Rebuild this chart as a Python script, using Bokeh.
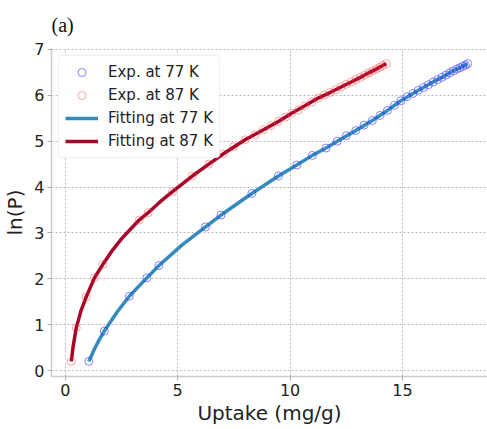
from bokeh.plotting import figure
from bokeh.models import Range1d, Legend, LegendItem, FixedTicker
from bokeh.embed import file_html
from bokeh.resources import INLINE

# 77 K experimental points
x77 = [1.05, 1.74, 2.85, 3.63, 4.17, 6.24, 6.93, 8.3, 9.48, 10.3, 10.99, 11.6, 12.1, 12.5,
       12.92, 13.29, 13.66, 14.0, 14.33, 14.64, 14.93, 15.2, 15.46, 15.7, 15.93, 16.15,
       16.36, 16.56, 16.75, 16.93, 17.1, 17.26, 17.41, 17.55, 17.68, 17.8, 17.9]
y77 = [0.2, 0.86, 1.62, 2.02, 2.29, 3.13, 3.39, 3.86, 4.24, 4.48, 4.69, 4.85, 5.0, 5.12,
       5.23, 5.35, 5.45, 5.56, 5.67, 5.78, 5.88, 5.97, 6.04, 6.11, 6.17, 6.23,
       6.29, 6.34, 6.39, 6.44, 6.49, 6.53, 6.57, 6.6, 6.63, 6.66, 6.69]

# 87 K experimental points
x87 = [0.27, 0.49, 0.93, 1.3, 1.67, 3.29, 3.69, 4.77, 5.65, 6.39, 7.02, 7.49, 8.0, 8.45,
       8.82, 9.16, 9.48, 9.78, 10.07, 10.37, 10.66, 10.96, 11.25, 11.52, 11.78, 12.03,
       12.27, 12.5, 12.72, 12.93, 13.13, 13.32, 13.5, 13.67, 13.83, 13.98, 14.12, 14.28]
y87 = [0.2, 0.93, 1.6, 2.02, 2.31, 3.28, 3.44, 3.9, 4.24, 4.5, 4.72, 4.88, 5.03, 5.14,
       5.25, 5.34, 5.43, 5.52, 5.61, 5.68, 5.77, 5.85, 5.94, 6.0, 6.06, 6.12,
       6.18, 6.24, 6.29, 6.34, 6.39, 6.44, 6.49, 6.53, 6.57, 6.61, 6.65, 6.69]

# fitted curves
fx77 = [1.05, 1.3, 1.5, 1.74, 2.3, 2.85, 3.63, 4.17, 5.2, 6.24, 6.93, 8.3, 9.48, 10.3,
        10.99, 11.6, 12.1, 12.92, 13.66, 14.33, 14.93, 15.46, 15.93, 16.36, 16.75,
        17.1, 17.41, 17.68, 17.9]
fy77 = [0.2, 0.47, 0.66, 0.86, 1.27, 1.62, 2.02, 2.29, 2.74, 3.13, 3.39, 3.86, 4.24, 4.48,
        4.69, 4.85, 5.0, 5.23, 5.45, 5.67, 5.88, 6.04, 6.17, 6.29, 6.39,
        6.49, 6.57, 6.63, 6.69]
fx87 = [0.27, 0.35, 0.49, 0.7, 0.93, 1.3, 1.67, 2.1, 2.5, 2.9, 3.29, 3.69, 4.2, 4.77,
        5.65, 6.39, 7.02, 8.0, 8.82, 9.48, 10.07, 10.66, 11.25, 11.78, 12.27, 12.72,
        13.13, 13.5, 13.83, 14.12, 14.28]
fy87 = [0.2, 0.52, 0.93, 1.3, 1.6, 2.02, 2.31, 2.62, 2.87, 3.08, 3.28, 3.44, 3.67, 3.9,
        4.24, 4.5, 4.72, 5.03, 5.25, 5.43, 5.61, 5.77, 5.94, 6.06, 6.18, 6.29,
        6.39, 6.49, 6.57, 6.65, 6.69]

x_ticks = [0, 5, 10, 15]
y_ticks = [0, 1, 2, 3, 4, 5, 6, 7]

p = figure(width=487, height=429, output_backend="svg", toolbar_location=None,
           x_range=Range1d(-0.61, 18.78), y_range=Range1d(-0.13, 7.02),
           min_border_left=50, min_border_right=0, min_border_top=48, min_border_bottom=53,
           title="(a)")
p.outline_line_color = None
p.background_fill_color = "white"
p.title.text_font = "Liberation Serif"
p.title.text_font_size = "20px"
p.title.text_font_style = "normal"
p.title.text_color = "#111111"
p.title.align = "left"
p.title.vertical_align = "top"
p.title.offset = 0
p.title.standoff = 22

for ax in (p.xaxis, p.yaxis):
    ax.axis_line_color = "#cccccc"
    ax.axis_line_width = 1.5
    ax.major_tick_line_color = "#aaaaaa"
    ax.major_tick_out = 4
    ax.major_tick_in = 0
    ax.minor_tick_line_color = None
    ax.major_label_text_font = "DejaVu Sans"
    ax.major_label_text_font_size = "16px"
    ax.major_label_text_color = "#222222"
    ax.axis_label_text_font = "DejaVu Sans"
    ax.axis_label_text_font_size = "20px"
    ax.axis_label_text_font_style = "normal"
    ax.axis_label_text_color = "#222222"

p.xaxis.ticker = FixedTicker(ticks=x_ticks)
p.yaxis.ticker = FixedTicker(ticks=y_ticks)
p.xaxis.axis_label = "Uptake (mg/g)"
p.yaxis.axis_label = "ln(P)"
p.xaxis.axis_label_standoff = 2
p.yaxis.axis_label_standoff = 4
p.xaxis.major_label_standoff = 3
p.yaxis.major_label_standoff = 3

for g in (p.xgrid, p.ygrid):
    g.grid_line_color = "#bbbbbb"
    g.grid_line_dash = "2 2"
    g.grid_line_width = 1

l77 = p.line(fx77, fy77, line_color="#348ABD", line_width=3.5)
l87 = p.line(fx87, fy87, line_color="#A60628", line_width=3.5)
c77 = p.scatter(x77, y77, marker="circle", size=8, fill_color=None,
                line_color="#3333ff", line_alpha=0.6, line_width=1)
c87 = p.scatter(x87, y87, marker="circle", size=8, fill_color=None,
                line_color="#ff3333", line_alpha=0.45, line_width=1)

legend = Legend(items=[
    LegendItem(label="Exp. at 77 K", renderers=[c77]),
    LegendItem(label="Exp. at 87 K", renderers=[c87]),
    LegendItem(label="Fitting at 77 K", renderers=[l77]),
    LegendItem(label="Fitting at 87 K", renderers=[l87]),
], location="top_left")
legend.label_text_font = "DejaVu Sans"
legend.label_text_font_size = "15px"
legend.label_text_color = "#222222"
legend.border_line_color = "#dddddd"
legend.border_radius = 4
legend.background_fill_alpha = 0.9
legend.glyph_width = 33
legend.glyph_height = 20
legend.label_height = 20
legend.spacing = 3
legend.padding = 6
legend.margin = 7
legend.label_standoff = 10
p.add_layout(legend)

open("out.html", "w").write(file_html(p, INLINE))
